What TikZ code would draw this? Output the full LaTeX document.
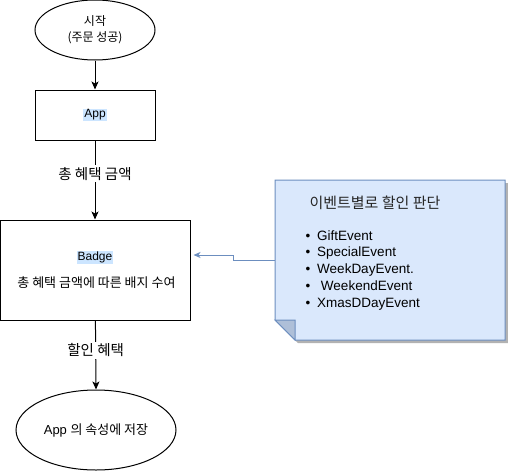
\documentclass[tikz,border=0pt]{standalone}
\usepackage{fontspec}
\setmainfont{Liberation Sans}
\newfontfamily\kr{Noto Sans CJK KR}
\usetikzlibrary{arrows.meta,shapes.geometric}

\definecolor{notefill}{HTML}{DAE8FC}
\definecolor{noteline}{HTML}{6C8EBF}
\definecolor{notefold}{HTML}{AEBFD8}
\definecolor{hilite}{HTML}{CCE5FF}
\setlength{\fboxsep}{1pt}

\newcommand{\fsize}[1]{\fontsize{#1}{1.25\dimexpr#1pt\relax}\selectfont}

\tikzset{
    flowbox/.style={draw, rectangle, inner sep=0pt, align=center},
    terminal/.style={draw, ellipse, inner sep=0pt, align=center},
    flow/.style={-{Stealth[length=8pt,width=7pt,inset=2pt]}},
    link/.style={noteline, -{Stealth[length=7pt,width=6pt,inset=2pt]}},
    edgelabel/.style={fill=white, inner sep=2pt, font=\kr\fsize{14.5}}
}

\begin{document}
\begin{tikzpicture}[x=1pt, y=-1pt, line width=1pt, font=\fsize{12}]

            \useasboundingbox (0,0) rectangle (508,471);

            % flow
            \node[terminal, minimum width=120, minimum height=60, font=\kr\fontsize{12}{16}\selectfont] (start) at (95,30) {시작\\(주문 성공)};
            \node[flowbox, minimum width=120, minimum height=50] (app) at (95,115) {\colorbox{hilite}{App}};
            \node[flowbox, minimum width=190, minimum height=100] (badge) at (95,270)
                {\colorbox{hilite}{Badge}\\[12pt]{\kr\fsize{13} 총 혜택 금액에 따른 배지 수여}};
            \node[terminal, minimum width=160, minimum height=80, font=\fsize{13}] (save) at (96,430) {App {\kr 의 속성에 저장}};

            \draw[flow] (start) -- (app);
            \draw[flow] (app) -- node[edgelabel, pos=0.42] {총 혜택 금액} (badge);
            \draw[flow] (badge) -- node[edgelabel, pos=0.43] {할인 혜택} (save.north);

            % note
            \fill[black!30] (278,183) -- (508,183) -- (508,343) -- (298,343) -- (278,323) -- cycle;
            \draw[noteline, fill=notefill] (275,180) -- (505,180) -- (505,340) -- (295,340) -- (275,320) -- cycle;
            \draw[noteline, fill=notefold] (275,320) -- (295,320) -- (295,340) -- cycle;

            \node[font=\kr\fsize{15}, text=black!85] (title) at (375,203) {이벤트별로 할인 판단};
            \node[anchor=north west, align=left, inner sep=0pt, font=\fontsize{13.5}{16.7}\selectfont] (events) at (305,230)
                {\textbullet\hspace{7pt}GiftEvent\\
                 \textbullet\hspace{7pt}SpecialEvent\\
                 \textbullet\hspace{7pt}WeekDayEvent.\\
                 \textbullet\hspace{7pt}\ WeekendEvent\\
                 \textbullet\hspace{7pt}XmasDDayEvent};

            \coordinate (noteW) at (275,260);
            \draw[link] (noteW) -- (233,260) -- (233,255) -- ([xshift=3pt]badge.east |- 0,255);

\end{tikzpicture}
\end{document}
